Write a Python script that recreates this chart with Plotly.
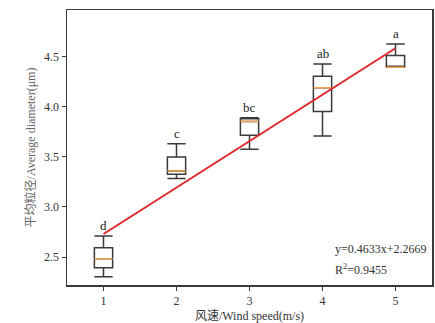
import plotly.graph_objects as go

# ---- data ----
wind_speed = [1, 2, 3, 4, 5]
lower_whisker = [2.304, 3.283, 3.575, 3.707, 4.394]
q1_vals = [2.394, 3.326, 3.714, 3.953, 4.394]
median_vals = [2.483, 3.359, 3.853, 4.189, 4.394]
q3_vals = [2.593, 3.498, 3.880, 4.304, 4.510]
upper_whisker = [2.709, 3.631, 3.890, 4.427, 4.626]
sig_letters = ["d", "c", "bc", "ab", "a"]
slope = 0.4633
intercept = 2.2669
r_squared = 0.9455

FONT = "Liberation Serif, Times New Roman, Noto Sans CJK SC, serif"
BOX_W = 0.25
DARK = "#3a3a3a"

fig = go.Figure()

fig.add_trace(go.Box(
    x=wind_speed, q1=q1_vals, median=median_vals, q3=q3_vals,
    lowerfence=lower_whisker, upperfence=upper_whisker,
    width=BOX_W, whiskerwidth=1, fillcolor="white",
    line=dict(color=DARK, width=1.5), boxpoints=False,
    showlegend=False, hoverinfo="skip",
))

# orange median lines
mx, my = [], []
for p, m in zip(wind_speed, median_vals):
    mx += [p - BOX_W / 2, p + BOX_W / 2, None]
    my += [m, m, None]
fig.add_trace(go.Scatter(x=mx, y=my, mode="lines",
                         line=dict(color="#f5a04a", width=1.5),
                         showlegend=False, hoverinfo="skip"))

# regression line
lx = [wind_speed[0], wind_speed[-1]]
ly = [slope * v + intercept for v in lx]
fig.add_trace(go.Scatter(x=lx, y=ly, mode="lines",
                         line=dict(color="#e0262a", width=2),
                         showlegend=False, hoverinfo="skip"))

for p, u, t in zip(wind_speed, upper_whisker, sig_letters):
    fig.add_annotation(x=p, y=u, text=t, showarrow=False, yanchor="bottom",
                       yshift=1, font=dict(family=FONT, size=13, color="#222"))

fig.add_annotation(xref="paper", yref="paper", x=0.73, y=0.131,
                   xanchor="left", yanchor="middle", showarrow=False,
                   text=f"y={slope}x+{intercept}",
                   font=dict(family=FONT, size=12, color="#333"))
fig.add_annotation(xref="paper", yref="paper", x=0.73, y=0.055,
                   xanchor="left", yanchor="middle", showarrow=False,
                   text=f"R<sup>2</sup>={r_squared}",
                   font=dict(family=FONT, size=12, color="#333"))

axis_common = dict(showline=True, linecolor=DARK, linewidth=1.5, mirror=True,
                   ticks="outside", ticklen=4, tickcolor=DARK, tickwidth=1,
                   showgrid=False, zeroline=False,
                   tickfont=dict(family=FONT, size=12, color="#333"))

fig.update_layout(
    width=435, height=323,
    margin=dict(l=67, r=1, t=10, b=38),
    plot_bgcolor="white", paper_bgcolor="white",
    xaxis=dict(range=[0.5, 5.5], tickvals=wind_speed,
               title=dict(text="风速/Wind speed(m/s)", standoff=4,
                          font=dict(family=FONT, size=12, color="#333")),
               **axis_common),
    yaxis=dict(range=[2.221, 4.965], tickvals=[2.5, 3.0, 3.5, 4.0, 4.5],
               ticktext=["2.5", "3.0", "3.5", "4.0", "4.5"],
               title=dict(text="平均粒径/Average diameter(μm)", standoff=6,
                          font=dict(family=FONT, size=12, color="#666")),
               **axis_common),
)

fig.write_html("out.html",
               config={"displayModeBar": False, "staticPlot": True},
               post_script="document.body.style.margin='0';"
                           "document.body.style.overflow='hidden';")
